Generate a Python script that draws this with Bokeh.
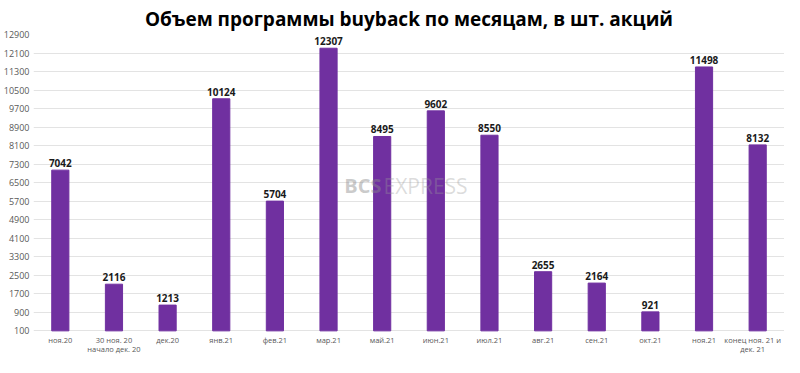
from bokeh.plotting import figure
from bokeh.models import ColumnDataSource, Range1d, FactorRange, FixedTicker, LabelSet, Label
from bokeh.core.properties import value
from bokeh.embed import file_html
from bokeh.resources import INLINE

categories = ["ноя.20", "30 ноя. 20 начало дек. 20", "дек.20", "янв.21", "фев.21", "мар.21",
              "май.21", "июн.21", "июл.21", "авг.21", "сен.21", "окт.21", "ноя.21",
              "конец ноя. 21 и дек. 21"]
label_line1 = ["ноя.20", "30 ноя. 20", "дек.20", "янв.21", "фев.21", "мар.21",
               "май.21", "июн.21", "июл.21", "авг.21", "сен.21", "окт.21", "ноя.21",
               "конец ноя. 21 и"]
label_line2 = ["", "начало дек. 20", "", "", "", "", "", "", "", "", "", "", "",
               "дек. 21"]
values = [7042, 2116, 1213, 10124, 5704, 12307, 8495, 9602, 8550, 2655, 2164, 921, 11498, 8132]
y_min, y_max, y_step = 100, 12900, 800
label_room = 1150  # extra data-space below the baseline for the category labels

n = len(values)
src = ColumnDataSource(dict(x=categories, top=values, lab=[str(v) for v in values],
                            l1=label_line1, l2=label_line2,
                            base=[y_min] * n,
                            dx=[0] * (n - 1) + [-5]))

p = figure(width=784, height=357, output_backend="svg", toolbar_location=None,
           x_range=FactorRange(*categories, range_padding=0),
           y_range=Range1d(y_min - label_room, y_max),
           x_axis_location=None,
           title="Объем программы buyback по месяцам, в шт. акций",
           min_border_left=8, min_border_right=0, min_border_top=0, min_border_bottom=0)
p.title.align = "center"
p.title.text_font = "Open Sans"
p.title.text_font_size = "19px"
p.title.text_font_style = "bold"
p.title.text_color = "#000000"
p.title.offset = 0
p.title.standoff = 6

p.vbar(x="x", top="top", bottom=y_min, width=0.32, source=src, color="#7030A0")

p.add_layout(LabelSet(x="x", y="top", text="lab", source=src, text_align="center",
                      text_baseline="bottom", y_offset=3, text_font=value("Open Sans"),
                      text_font_size=value("10px"), text_font_style=value("bold"),
                      text_color="#1a1a1a"))

# category labels under the baseline (two lines)
for col, off in (("l1", -4), ("l2", -13)):
    p.add_layout(LabelSet(x="x", y="base", text=col, source=src, text_align="center",
                          text_baseline="top", y_offset=off, x_offset="dx",
                          text_font=value("Open Sans"),
                          text_font_size=value("7.5px"), text_color="#595959"))

p.add_layout(Label(x=348, y=172, x_units="screen", y_units="screen", text="BCS",
                   text_font="Open Sans", text_font_size="20px", text_font_style="bold",
                   text_color="#8a8a8a", text_alpha=0.45, text_align="right",
                   text_baseline="middle"))
p.add_layout(Label(x=350, y=172, x_units="screen", y_units="screen", text="EXPRESS",
                   text_font="Open Sans", text_font_size="21px",
                   text_color="#9a9a9a", text_alpha=0.35, text_align="left",
                   text_baseline="middle"))

p.yaxis.ticker = FixedTicker(ticks=list(range(y_min, y_max + 1, y_step)))
p.yaxis.axis_line_color = None
p.yaxis.major_tick_line_color = None
p.yaxis.minor_tick_line_color = None
p.yaxis.major_tick_out = 0
p.yaxis.major_tick_in = 0
p.yaxis.major_label_text_font = "Open Sans"
p.yaxis.major_label_text_font_size = "9px"
p.yaxis.major_label_text_color = "#595959"
p.yaxis.major_label_standoff = 4

p.xgrid.grid_line_color = None
p.ygrid.grid_line_color = "#e3e3e3"
p.ygrid.grid_line_width = 1
p.outline_line_color = None

open("out.html", "w").write(file_html(p, INLINE))
